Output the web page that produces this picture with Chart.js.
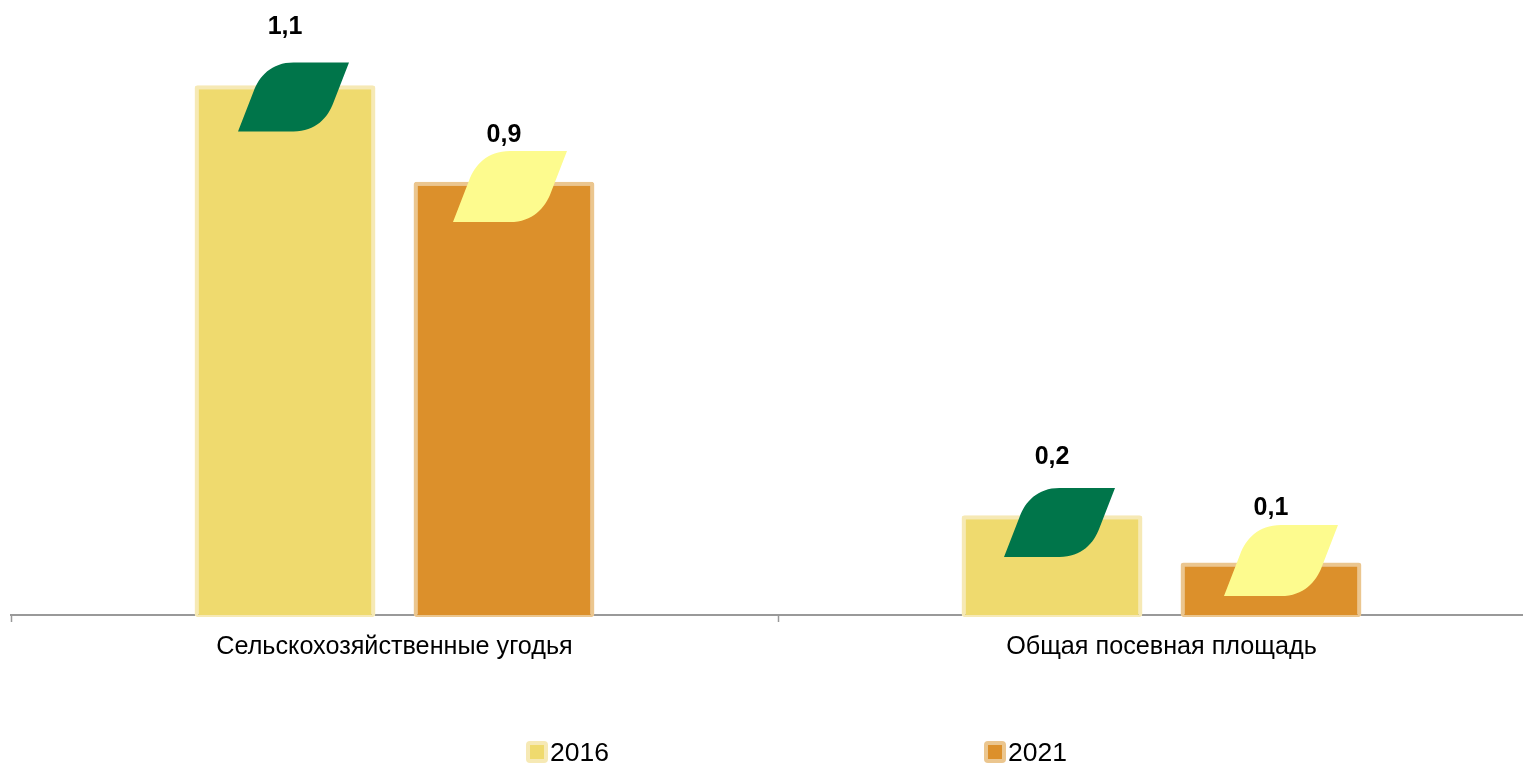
<!DOCTYPE html>
<html><head><meta charset="utf-8">
<style>html,body{margin:0;padding:0;background:#fff;overflow:hidden;width:1523px;height:766px}canvas{display:block}</style>
<script src="https://cdn.jsdelivr.net/npm/chart.js@4"></script>
</head><body>
<canvas id="c" width="1560" height="766"></canvas>
<script>
const categories = ['Сельскохозяйственные угодья', 'Общая посевная площадь'];
const years = ['2016', '2021'];
const values2016 = [1.1, 0.207];
const values2021 = [0.9, 0.109];

const FONT = '"Liberation Sans", Arial, sans-serif';
const seriesStyle = [
  {fill:'#EFDA6E', edge:'#F6E9B5', leaf:'#00754A', w:111, h:69, off:[[8.5,11.7],[7.5,7.2]], label:[57.8,57.8]},
  {fill:'#DC902B', edge:'#EBC68F', leaf:'#FDFB8E', w:114, h:71, off:[[6,4.8],[10,-2]], label:[46.2,54]}
];

function leafPath(ctx,x,y,w,h){
  const X=u=>x+u*w, Y=v=>y+v*h;
  ctx.beginPath();
  ctx.moveTo(X(0),Y(1));
  ctx.lineTo(X(0.14),Y(0.42));
  ctx.bezierCurveTo(X(0.19),Y(0.2),X(0.3),Y(0),X(0.5),Y(0));
  ctx.lineTo(X(1),Y(0));
  ctx.lineTo(X(0.86),Y(0.58));
  ctx.bezierCurveTo(X(0.81),Y(0.8),X(0.7),Y(1),X(0.5),Y(1));
  ctx.closePath();
}

const decorations = {
  id:'decorations',
  afterDraw(chart){
    const ctx=chart.ctx;
    ctx.save();
    chart.data.datasets.forEach((ds,i)=>{
      const st=seriesStyle[i];
      chart.getDatasetMeta(i).data.forEach((bar,j)=>{
        const cx=bar.x+st.off[j][0], cy=bar.y+st.off[j][1];
        leafPath(ctx,cx-st.w/2,cy-st.h/2,st.w,st.h);
        ctx.fillStyle=st.leaf; ctx.fill();
        ctx.fillStyle='#000';
        ctx.font='bold 25px '+FONT;
        ctx.textAlign='center'; ctx.textBaseline='middle';
        ctx.fillText(ds.data[j].toFixed(1).replace('.',','),bar.x,bar.y-st.label[j]);
      });
      // legend
      const lx=[526,984][i], ly=741, s=22;
      ctx.beginPath(); ctx.roundRect(lx,ly,s,s,4); ctx.fillStyle=st.edge; ctx.fill();
      ctx.fillStyle=st.fill; ctx.fillRect(lx+4,ly+4,s-8,s-8);
      ctx.fillStyle='#000'; ctx.font='26.5px '+FONT;
      ctx.textAlign='left'; ctx.textBaseline='middle';
      ctx.fillText(ds.label,lx+s+2,754);
    });
    ctx.restore();
  }
};

const makeSet=(label,data,st)=>({label,data,backgroundColor:st.fill,borderColor:st.edge,
  borderWidth:{top:4,left:4,right:4,bottom:2},borderSkipped:false,borderRadius:3,base:-0.0042,clip:false,
  categoryPercentage:0.571,barPercentage:0.826});

new Chart(document.getElementById('c'),{
  type:'bar',
  data:{labels:categories,datasets:[
    makeSet(years[0],values2016,seriesStyle[0]),
    makeSet(years[1],values2021,seriesStyle[1])]},
  plugins:[decorations],
  options:{
    responsive:false,animation:false,
    layout:{padding:{left:11,right:15,top:0,bottom:0}},
    plugins:{legend:{display:false},tooltip:{enabled:false},title:{display:false}},
    scales:{
      x:{
        z:1,
        afterFit(s){s.height=151;},
        border:{display:true,color:'#999999',width:2},
        grid:{display:true,drawOnChartArea:false,drawTicks:true,offset:true,tickLength:7,color:'#999999',tickWidth:1.5},
        ticks:{color:'#000',font:{family:FONT,size:25.2},padding:10,maxRotation:0,autoSkip:false}
      },
      y:{display:false,min:0,max:1.2773}
    }
  }
});
</script>
</body></html>
